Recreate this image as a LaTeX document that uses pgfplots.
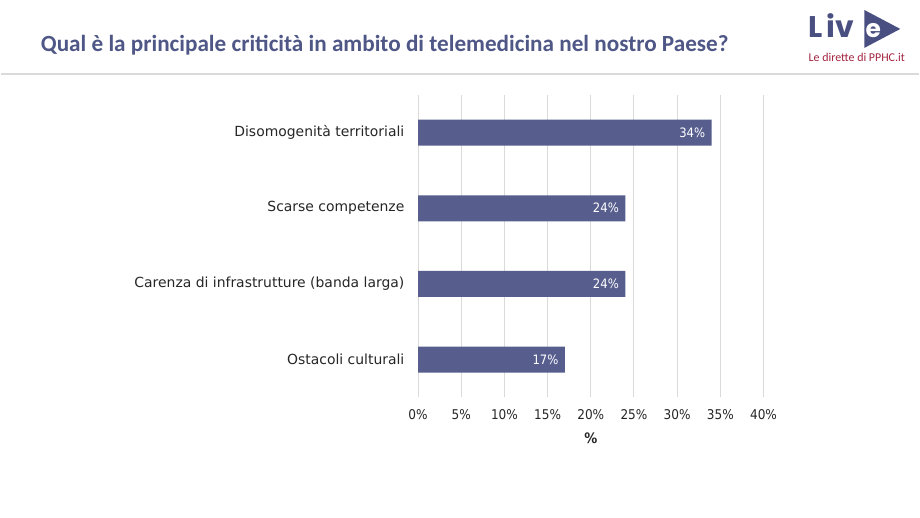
\documentclass[border=0pt]{standalone}
\usepackage{pgfplots}
\pgfplotsset{compat=1.18}
\usepackage{fontspec}
\setmainfont{DejaVu Sans Condensed}
\newfontfamily\labelfont{DejaVu Sans}
\newfontfamily\titlefont{Carlito}
\newfontfamily\logofont{Poppins}
\definecolor{barcol}{HTML}{575E8E}
\definecolor{titlecol}{HTML}{4F5786}
\definecolor{gridcol}{HTML}{DADADA}
\definecolor{txtcol}{HTML}{262626}
\definecolor{logored}{HTML}{A3233F}
\definecolor{logoblue}{HTML}{4A4F82}

\pgfplotstableread{
idx value
0 17
1 24
2 24
3 34
}\critdata

\begin{document}
\begin{tikzpicture}[x=1bp,y=1bp]
  % page frame
  \fill[white] (0,0) rectangle (920,518);
  % title and rule
  \node[anchor=west, text=titlecol, font=\titlefont\bfseries\fontsize{23.3}{26}\selectfont, inner sep=0pt]
    at (40,473) {Qual è la principale criticità in ambito di telemedicina nel nostro Paese?};
  \draw[gridcol, line width=1.5bp] (0,444) -- (920,444);
  % logo
  \fill[logoblue] (865,508) -- (901,489) -- (865,470) -- cycle;
  \node[anchor=base west, text=logoblue, font=\logofont\bfseries\fontsize{30}{30}\selectfont, inner sep=0pt] at (809,480) {L};
  \node[anchor=base west, text=logoblue, font=\logofont\bfseries\fontsize{30}{30}\selectfont, inner sep=0pt] at (827,480) {i};
  \node[anchor=base west, text=logoblue, font=\logofont\bfseries\fontsize{30}{30}\selectfont, inner sep=0pt] at (836,480) {v};
  \node[anchor=base west, text=white, font=\logofont\bfseries\fontsize{25}{25}\selectfont, inner sep=0pt] at (866,480) {e};
  \node[anchor=base west, text=logored, font=\titlefont\fontsize{12}{14}\selectfont, inner sep=0pt]
    at (809,456) {Le dirette di PPHC.it};

  \begin{axis}[
    at={(418bp,120bp)}, anchor=south west,
    scale only axis, width=346bp, height=303bp,
    xbar, bar width=26bp,
    xmin=0, xmax=40, ymin=-0.5, ymax=3.5,
    xtick={0,5,...,40},
    xticklabel={\pgfmathprintnumber{\tick}\%},
    ytick={0,1,2,3},
    yticklabels={Ostacoli culturali, Carenza di infrastrutture (banda larga), Scarse competenze, Disomogenità territoriali},
    /pgf/number format/assume math mode=true,
    xmajorgrids, major grid style={gridcol, line width=1bp},
    axis line style={draw=none},
    tick style={draw=none},
    xticklabel style={text=txtcol, font=\fontsize{13.5}{16}\selectfont, yshift=-9bp},
    yticklabel style={text=txtcol, font=\labelfont\fontsize{14}{16}\selectfont, xshift=-6bp},
    xlabel={\textbf{\%}}, xlabel style={text=txtcol, font=\fontsize{14.5}{16}\selectfont, yshift=-6bp},
    clip=false,
    nodes near coords={\pgfmathprintnumber{\pgfplotspointmeta}\%},
    nodes near coords style={anchor=east, text=white, font=\fontsize{13}{16}\selectfont, xshift=-3bp},
    point meta=x,
  ]
    \addplot[fill=barcol, draw=none] table[x=value, y=idx] {\critdata};
  \end{axis}
\end{tikzpicture}
\end{document}
